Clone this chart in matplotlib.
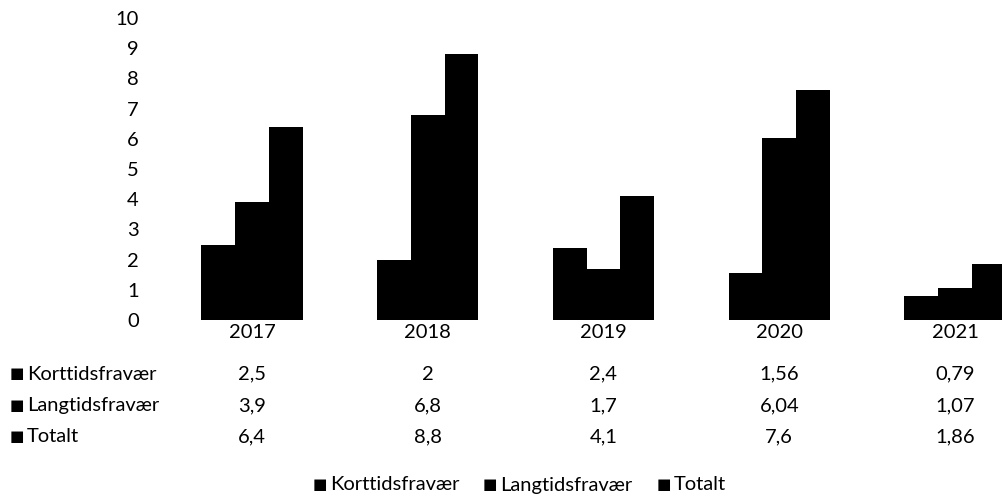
import matplotlib
matplotlib.use("Agg")
import matplotlib.pyplot as plt
from matplotlib.transforms import blended_transform_factory
import numpy as np

years = ["2017", "2018", "2019", "2020", "2021"]
series_names = ["Korttidsfravær", "Langtidsfravær", "Totalt"]
korttid = [2.5, 2.0, 2.4, 1.56, 0.79]
langtid = [3.9, 6.8, 1.7, 6.04, 1.07]
totalt = [6.4, 8.8, 4.1, 7.6, 1.86]
table_labels = [
    ["2,5", "2", "2,4", "1,56", "0,79"],
    ["3,9", "6,8", "1,7", "6,04", "1,07"],
    ["6,4", "8,8", "4,1", "7,6", "1,86"],
]
values = [korttid, langtid, totalt]

plt.rcParams["font.family"] = ["Lato", "DejaVu Sans"]
plt.rcParams["font.size"] = 14.5

W, H = 1002, 495
fig = plt.figure(figsize=(W / 100, H / 100), dpi=100)
# axes runs past the right edge, the 2021 group is cut off like the source
ax = fig.add_axes([164 / W, (H - 320) / H, 879 / W, 302 / H])

x = np.arange(len(years))
bw = 0.192
for i, vals in enumerate(values):
    ax.bar(x + (i - 1) * bw, vals, width=bw, color="black", linewidth=0)

ax.set_xlim(-0.5, len(years) - 0.5)
ax.set_ylim(0, 10)
ax.set_yticks(range(0, 11))
ax.set_xticks(x)
ax.set_xticklabels(years)
ax.tick_params(axis="y", length=0, pad=18)
ax.tick_params(axis="x", length=0, pad=3)
for s in ax.spines.values():
    s.set_visible(False)


def key_label(px, py, name):
    # small square marker + series name
    fy = 1 - py / H
    fig.text(px / W, fy, "■", ha="left", va="center", fontsize=11)
    fig.text((px + 17) / W, fy, name, ha="left", va="center")


# data table under the chart
tr = blended_transform_factory(ax.transData, fig.transFigure)
row_y = [374, 406, 437]
for r, name in enumerate(series_names):
    key_label(10, row_y[r], name)
    fy = 1 - row_y[r] / H
    for c in range(len(years)):
        ax.text(x[c], fy, table_labels[r][c], transform=tr, ha="center", va="center", clip_on=False)

# legend
leg_x = [313, 483, 657]
for px, name in zip(leg_x, series_names):
    key_label(px, 485, name)

fig.savefig("out.png", dpi=100)
